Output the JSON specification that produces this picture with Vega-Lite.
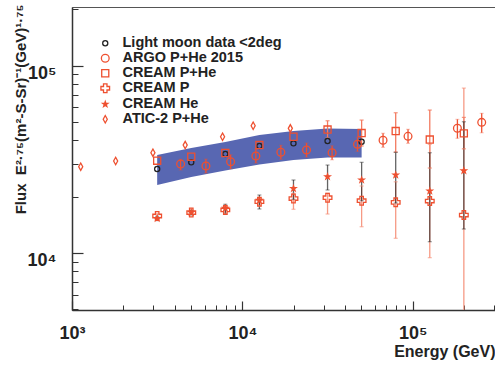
{
  "$schema": "https://vega.github.io/schema/vega-lite/v6.json",
  "width": 423,
  "height": 303,
  "autosize": {"type": "none"},
  "padding": {"left": 72, "top": 7, "right": 0, "bottom": 59},
  "background": "white",
  "config": {
    "font": "Liberation Sans",
    "view": {"stroke": "#555", "strokeWidth": 1}
  },
  "datasets": {
    "band": [
      {"E": 3162, "top": 33370, "bot": 23070},
      {"E": 5012, "top": 36360, "bot": 25450},
      {"E": 7943, "top": 39140, "bot": 27580},
      {"E": 12589, "top": 42660, "bot": 29690},
      {"E": 19953, "top": 44810, "bot": 31370},
      {"E": 31623, "top": 46210, "bot": 32360},
      {"E": 50119, "top": 45920, "bot": 32360}
    ],
    "errs": [
      {"set": "ARGO", "E": 4340, "lo": 27740, "hi": 31640},
      {"set": "ARGO", "E": 6110, "lo": 26720, "hi": 31760},
      {"set": "ARGO", "E": 8530, "lo": 28170, "hi": 33480},
      {"set": "ARGO", "E": 12000, "lo": 30220, "hi": 35920},
      {"set": "ARGO", "E": 16820, "lo": 31630, "hi": 37590},
      {"set": "ARGO", "E": 23800, "lo": 32530, "hi": 38660},
      {"set": "ARGO", "E": 33620, "lo": 31470, "hi": 37410},
      {"set": "ARGO", "E": 47390, "lo": 34890, "hi": 41470},
      {"set": "ARGO", "E": 66950, "lo": 36660, "hi": 43580},
      {"set": "ARGO", "E": 93840, "lo": 38500, "hi": 45760},
      {"set": "ARGO", "E": 182900, "lo": 40960, "hi": 51730},
      {"set": "ARGO", "E": 254000, "lo": 43870, "hi": 55690},
      {"set": "PHe", "E": 31623, "lo": 41100, "hi": 50850},
      {"set": "PHe", "E": 50119, "lo": 37270, "hi": 51290},
      {"set": "PHe", "E": 79433, "lo": 34600, "hi": 56110},
      {"set": "PHe", "E": 125893, "lo": 28430, "hi": 58000},
      {"set": "PHe", "E": 199526, "lo": 36000, "hi": 53000},
      {"set": "P", "E": 3162, "lo": 15300, "hi": 16200},
      {"set": "P", "E": 5012, "lo": 16000, "hi": 16900},
      {"set": "P", "E": 7943, "lo": 16300, "hi": 17600},
      {"set": "P", "E": 12589, "lo": 17900, "hi": 19700},
      {"set": "P", "E": 19953, "lo": 17120, "hi": 20830},
      {"set": "P", "E": 31623, "lo": 16150, "hi": 20830},
      {"set": "P", "E": 50119, "lo": 13810, "hi": 22790},
      {"set": "P", "E": 79433, "lo": 11980, "hi": 24000},
      {"set": "P", "E": 125893, "lo": 9440, "hi": 38000},
      {"set": "P", "E": 199526, "lo": 3000, "hi": 76000},
      {"set": "He", "E": 3162, "lo": 14900, "hi": 15700},
      {"set": "He", "E": 5012, "lo": 16000, "hi": 16900},
      {"set": "He", "E": 7943, "lo": 16090, "hi": 18200},
      {"set": "He", "E": 12589, "lo": 17180, "hi": 20400},
      {"set": "He", "E": 19953, "lo": 19350, "hi": 24540},
      {"set": "He", "E": 31623, "lo": 21700, "hi": 29500},
      {"set": "He", "E": 50119, "lo": 19020, "hi": 30500},
      {"set": "He", "E": 79433, "lo": 18490, "hi": 34490},
      {"set": "He", "E": 125893, "lo": 11490, "hi": 34320},
      {"set": "He", "E": 199526, "lo": 13430, "hi": 50230}
    ],
    "pts": [
      {"series": "Light moon data <2deg", "E": 3162, "F": 28090},
      {"series": "Light moon data <2deg", "E": 5012, "F": 30500},
      {"series": "Light moon data <2deg", "E": 7943, "F": 33790},
      {"series": "Light moon data <2deg", "E": 12589, "F": 37270},
      {"series": "Light moon data <2deg", "E": 19953, "F": 38530},
      {"series": "Light moon data <2deg", "E": 31623, "F": 39630},
      {"series": "Light moon data <2deg", "E": 50119, "F": 39280},
      {"series": "ARGO P+He 2015", "E": 4340, "F": 29870},
      {"series": "ARGO P+He 2015", "E": 6110, "F": 29140},
      {"series": "ARGO P+He 2015", "E": 8530, "F": 30720},
      {"series": "ARGO P+He 2015", "E": 12000, "F": 32960},
      {"series": "ARGO P+He 2015", "E": 16820, "F": 34490},
      {"series": "ARGO P+He 2015", "E": 23800, "F": 35470},
      {"series": "ARGO P+He 2015", "E": 33620, "F": 34320},
      {"series": "ARGO P+He 2015", "E": 47390, "F": 38050},
      {"series": "ARGO P+He 2015", "E": 66950, "F": 39980},
      {"series": "ARGO P+He 2015", "E": 93840, "F": 41980},
      {"series": "ARGO P+He 2015", "E": 182900, "F": 46330},
      {"series": "ARGO P+He 2015", "E": 254000, "F": 49860},
      {"series": "CREAM P+He", "E": 3162, "F": 31100},
      {"series": "CREAM P+He", "E": 5012, "F": 32670},
      {"series": "CREAM P+He", "E": 7943, "F": 34200},
      {"series": "CREAM P+He", "E": 12589, "F": 37720},
      {"series": "CREAM P+He", "E": 19953, "F": 41770},
      {"series": "CREAM P+He", "E": 31623, "F": 45630},
      {"series": "CREAM P+He", "E": 50119, "F": 43710},
      {"series": "CREAM P+He", "E": 79433, "F": 44810},
      {"series": "CREAM P+He", "E": 125893, "F": 40360},
      {"series": "CREAM P+He", "E": 199526, "F": 43560},
      {"series": "CREAM P", "E": 3162, "F": 15760},
      {"series": "CREAM P", "E": 5012, "F": 16450},
      {"series": "CREAM P", "E": 7943, "F": 16970},
      {"series": "CREAM P", "E": 12589, "F": 18790},
      {"series": "CREAM P", "E": 19953, "F": 19540},
      {"series": "CREAM P", "E": 31623, "F": 19730},
      {"series": "CREAM P", "E": 50119, "F": 19020},
      {"series": "CREAM P", "E": 79433, "F": 18650},
      {"series": "CREAM P", "E": 125893, "F": 18950},
      {"series": "CREAM P", "E": 199526, "F": 15950},
      {"series": "CREAM He", "E": 3162, "F": 15290},
      {"series": "CREAM He", "E": 5012, "F": 16450},
      {"series": "CREAM He", "E": 7943, "F": 17330},
      {"series": "CREAM He", "E": 12589, "F": 19110},
      {"series": "CREAM He", "E": 19953, "F": 22100},
      {"series": "CREAM He", "E": 31623, "F": 25550},
      {"series": "CREAM He", "E": 50119, "F": 24540},
      {"series": "CREAM He", "E": 79433, "F": 26090},
      {"series": "CREAM He", "E": 125893, "F": 21430},
      {"series": "CREAM He", "E": 199526, "F": 27510},
      {"series": "ATIC-2 P+He", "E": 1125, "F": 28890},
      {"series": "ATIC-2 P+He", "E": 1804, "F": 30990},
      {"series": "ATIC-2 P+He", "E": 2985, "F": 34320},
      {"series": "ATIC-2 P+He", "E": 4617, "F": 37720},
      {"series": "ATIC-2 P+He", "E": 7652, "F": 41770},
      {"series": "ATIC-2 P+He", "E": 11570, "F": 47830},
      {"series": "ATIC-2 P+He", "E": 19120, "F": 46330}
    ]
  },
  "resolve": {"axis": {"x": "independent", "y": "independent"}},
  "layer": [
    {
      "data": {"name": "band"},
      "mark": {"type": "area", "color": "#5867b2", "opacity": 1},
      "encoding": {
        "x": {"field": "E", "type": "quantitative",
              "scale": {"type": "log", "domain": [1000, 304000], "nice": false},
              "axis": {"orient": "bottom", "values": [2000,3000,4000,5000,6000,7000,8000,9000,20000,30000,40000,50000,60000,70000,80000,90000,200000,300000],
                       "labels": false, "domain": false, "grid": false, "tickSize": -5, "tickColor": "#333", "tickWidth": 1, "title": null}},
        "y": {"field": "top", "type": "quantitative",
              "scale": {"type": "log", "domain": [4960, 206000], "nice": false},
              "axis": {"orient": "left", "values": [5000,6000,7000,8000,9000,20000,30000,40000,50000,60000,70000,80000,90000,200000],
                       "labels": false, "domain": false, "grid": false, "tickSize": -6, "tickColor": "#333", "tickWidth": 1, "title": null}},
        "y2": {"field": "bot"}
      }
    },
    {
      "data": {"name": "errs"},
      "mark": {"type": "rule", "clip": true, "strokeWidth": 1.3},
      "encoding": {
        "x": {"field": "E", "type": "quantitative", "axis": null},
        "y": {"field": "lo", "type": "quantitative", "axis": null},
        "y2": {"field": "hi"},
        "color": {"field": "set", "type": "nominal", "legend": null,
                  "scale": {"domain": ["ARGO", "PHe", "P", "He"], "range": ["#ee5030", "#f27a60", "#f58f78", "#222222"]}},
        "opacity": {"field": "set", "type": "nominal", "legend": null,
                  "scale": {"type": "ordinal", "domain": ["ARGO", "PHe", "P", "He"], "range": [1, 1, 0.9, 0.7]}}
      }
    },
    {
      "data": {"name": "errs"},
      "mark": {"type": "tick", "clip": true, "orient": "horizontal", "size": 4, "thickness": 1.2},
      "encoding": {
        "x": {"field": "E", "type": "quantitative", "axis": null},
        "y": {"field": "lo", "type": "quantitative", "axis": null},
        "color": {"field": "set", "type": "nominal", "legend": null},
        "opacity": {"field": "set", "type": "nominal", "legend": null}
      }
    },
    {
      "data": {"name": "errs"},
      "mark": {"type": "tick", "clip": true, "orient": "horizontal", "size": 4, "thickness": 1.2},
      "encoding": {
        "x": {"field": "E", "type": "quantitative", "axis": null},
        "y": {"field": "hi", "type": "quantitative", "axis": null},
        "color": {"field": "set", "type": "nominal", "legend": null},
        "opacity": {"field": "set", "type": "nominal", "legend": null}
      }
    },
    {
      "data": {"name": "pts"},
      "mark": {"type": "point", "opacity": 1, "strokeWidth": 1.3},
      "encoding": {
        "x": {"field": "E", "type": "quantitative",
              "axis": {"orient": "bottom", "values": [1000, 10000, 100000], "grid": false, "domain": true, "domainColor": "#333", "domainWidth": 1.5,
                       "tickSize": -9, "tickColor": "#333", "tickWidth": 1.2,
                       "labelExpr": "datum.value == 1000 ? '10³' : datum.value == 10000 ? '10⁴' : '10⁵'",
                       "labelFont": "Liberation Sans", "labelFontWeight": "bold", "labelFontSize": 18, "labelColor": "#222", "labelPadding": 23,
                       "labelFlush": false,
                       "title": "Energy (GeV)", "titleFont": "Liberation Sans", "titleFontWeight": "bold", "titleFontSize": 16, "titleColor": "#222",
                       "titleAnchor": "end", "titleAlign": "right", "titleX": 423, "titleY": 46, "titleBaseline": "alphabetic"}},
        "y": {"field": "F", "type": "quantitative",
              "axis": {"orient": "left", "values": [10000, 100000], "grid": false, "domain": true, "domainColor": "#333", "domainWidth": 1.5,
                       "tickSize": -11, "tickColor": "#333", "tickWidth": 1.2,
                       "labelExpr": "datum.value == 10000 ? '10⁴' : '10⁵'",
                       "labelFont": "Liberation Sans", "labelFontWeight": "bold", "labelFontSize": 18, "labelColor": "#222", "labelPadding": 27,
                       "labelOffset": 8, "labelFlush": false,
                       "title": "Flux\u00a0\u00a0E²·⁷⁵(m²-S-Sr)⁻¹(GeV)¹·⁷⁵", "titleFont": "Liberation Sans", "titleFontWeight": "bold", "titleFontSize": 15, "titleColor": "#222",
                       "titleAngle": -90, "titleAlign": "right", "titleBaseline": "middle", "titleX": -52, "titleY": -3}},
        "shape": {"field": "series", "type": "nominal",
                  "scale": {"domain": ["Light moon data <2deg", "ARGO P+He 2015", "CREAM P+He", "CREAM P", "CREAM He", "ATIC-2 P+He"],
                            "range": ["circle", "circle", "square", "cross", "M0,-1L0.235,-0.324L0.951,-0.309L0.38,0.124L0.588,0.809L0,0.4L-0.588,0.809L-0.38,0.124L-0.951,-0.309L-0.235,-0.324Z", "M0,-1L0.55,0L0,1L-0.55,0Z"]},
                  "legend": {"title": null, "orient": "none", "legendX": 26, "legendY": 29,
                             "labelFont": "Liberation Sans", "labelFontWeight": "bold", "labelFontSize": 14.5, "labelColor": "#222",
                             "labelOffset": 10, "rowPadding": 0, "symbolStrokeWidth": 1.3}},
        "stroke": {"field": "series", "type": "nominal",
                   "scale": {"domain": ["Light moon data <2deg", "ARGO P+He 2015", "CREAM P+He", "CREAM P", "CREAM He", "ATIC-2 P+He"],
                             "range": ["#222222", "#ee5030", "#ee5030", "#ee5030", "#ee5030", "#ee5030"]}},
        "fill": {"field": "series", "type": "nominal",
                 "scale": {"domain": ["Light moon data <2deg", "ARGO P+He 2015", "CREAM P+He", "CREAM P", "CREAM He", "ATIC-2 P+He"],
                           "range": ["transparent", "transparent", "transparent", "transparent", "#ee5030", "transparent"]}},
        "size": {"field": "series", "type": "nominal",
                 "scale": {"type": "ordinal", "domain": ["Light moon data <2deg", "ARGO P+He 2015", "CREAM P+He", "CREAM P", "CREAM He", "ATIC-2 P+He"],
                           "range": [26, 60, 50, 75, 30, 55]}}
      }
    }
  ]
}
